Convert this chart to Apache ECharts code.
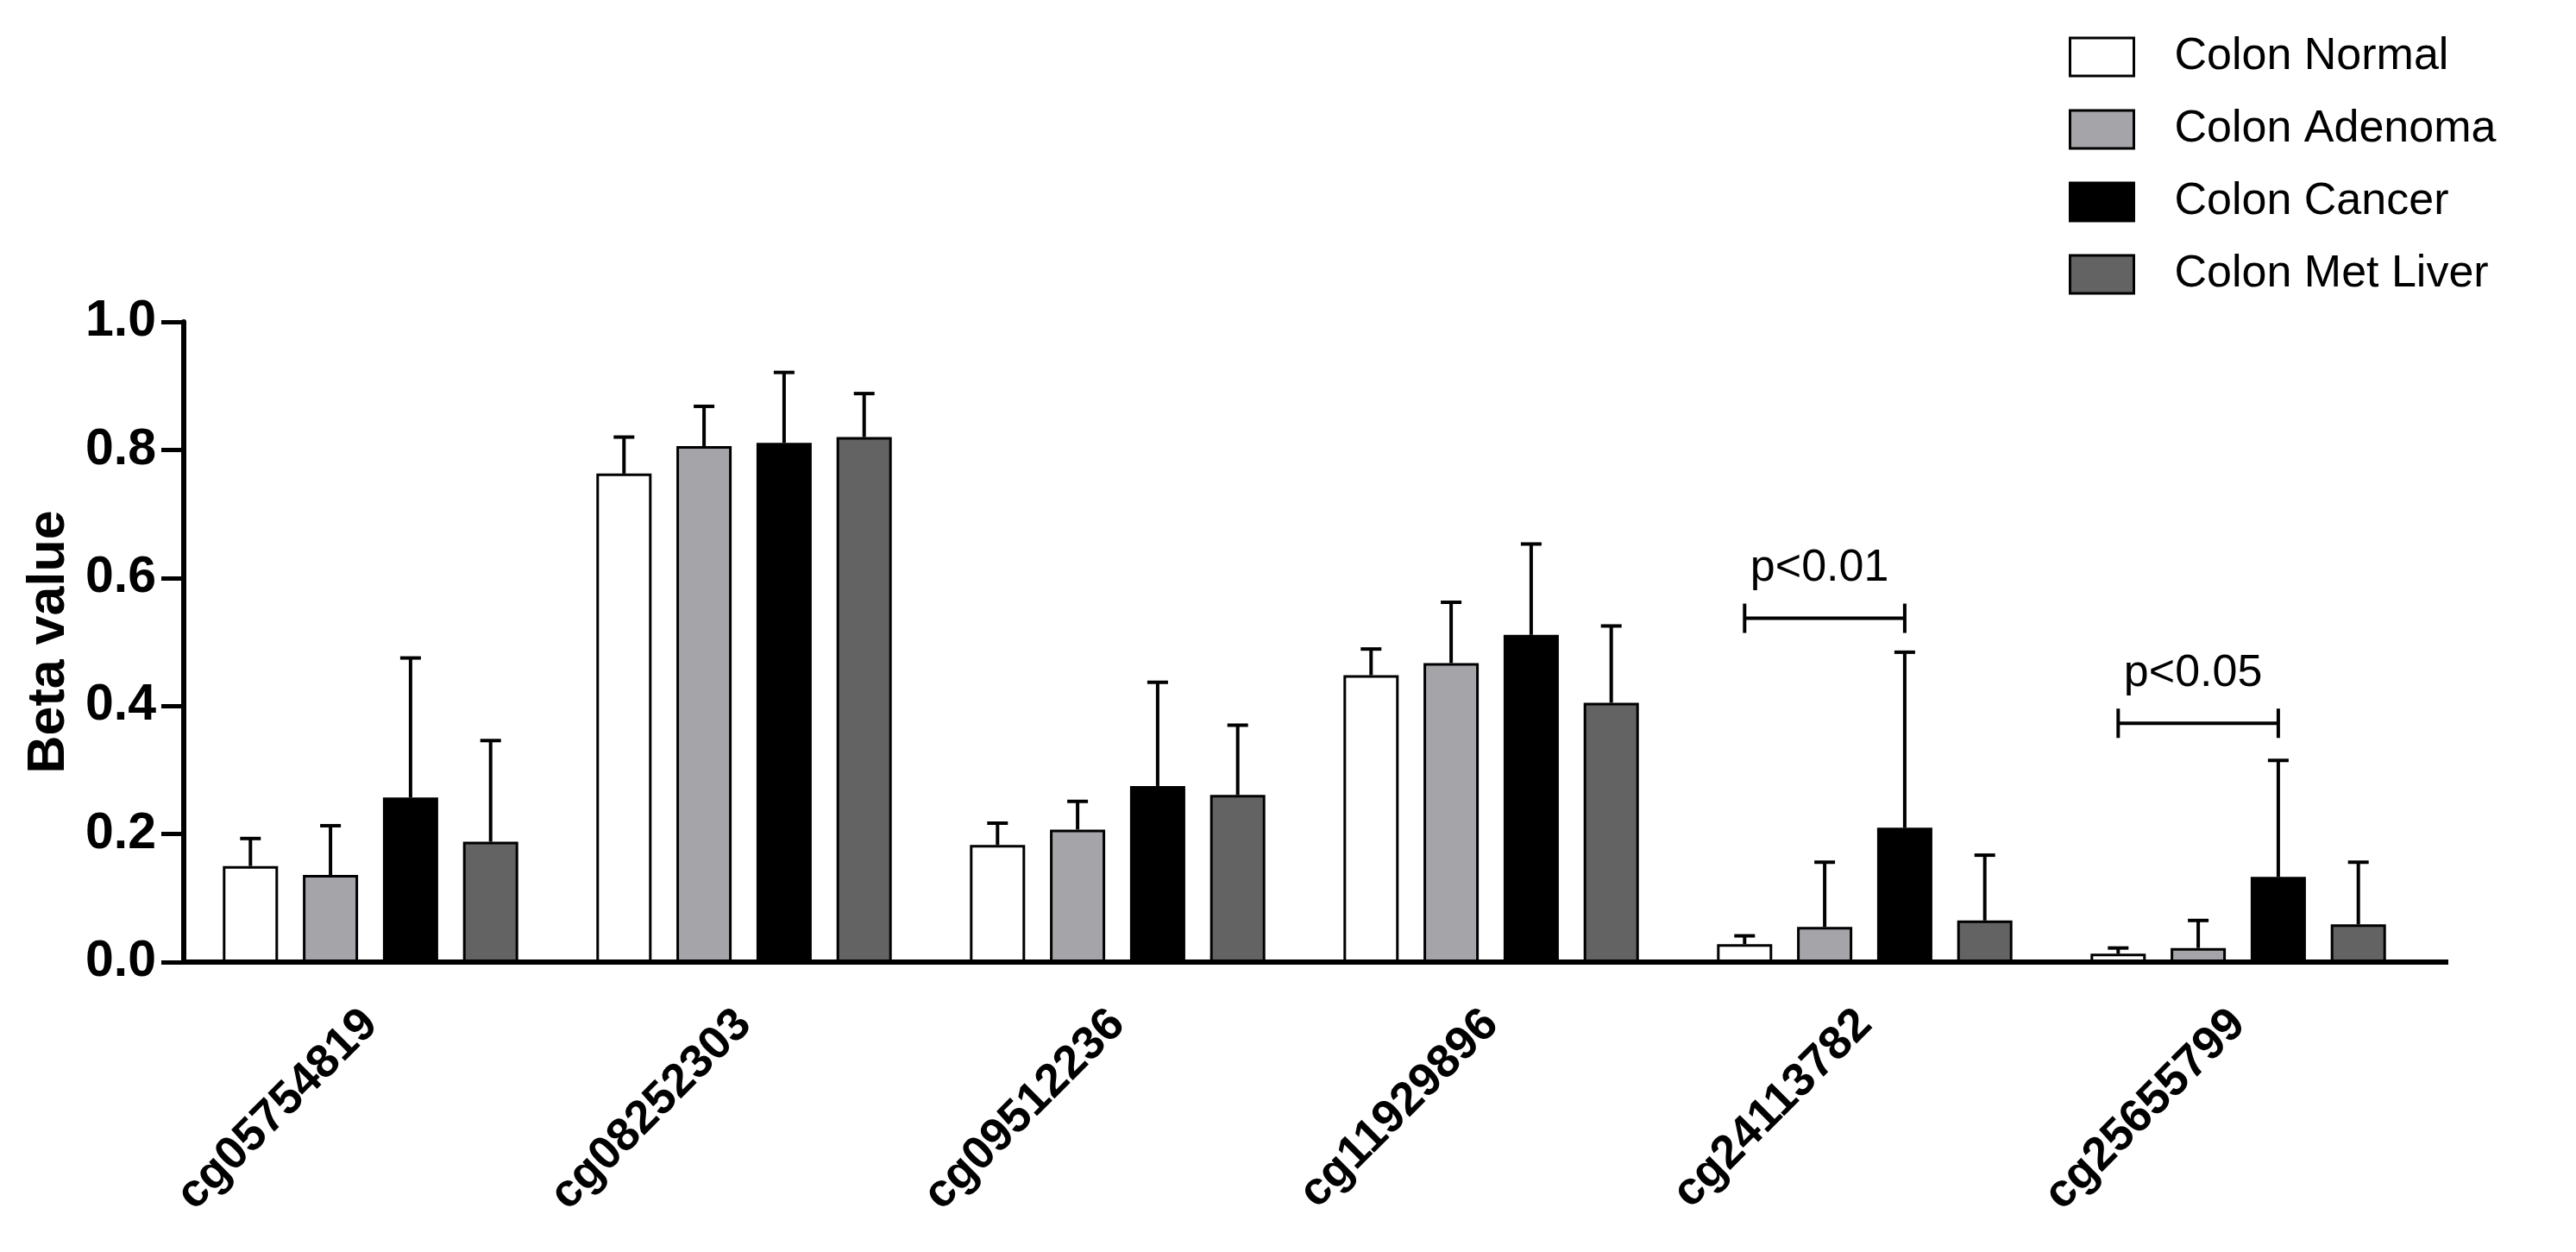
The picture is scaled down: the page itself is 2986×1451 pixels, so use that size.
<!DOCTYPE html>
<html>
<head>
<meta charset="utf-8">
<title>Beta value</title>
<script src="https://cdn.jsdelivr.net/npm/echarts@6/dist/echarts.min.js"></script>
<style>
  html, body { margin: 0; padding: 0; background: #fff; }
  #chart { width: 2986px; height: 1451px; }
</style>
</head>
<body>
<div id="chart"></div>
<script>
var categories = ['cg05754819', 'cg08252303', 'cg09512236', 'cg11929896', 'cg24113782', 'cg25655799'];
var groups = ['Colon Normal', 'Colon Adenoma', 'Colon Cancer', 'Colon Met Liver'];
var colors = ['#ffffff', '#a5a4a9', '#000000', '#636363'];

var normalMean  = [0.150, 0.763, 0.183, 0.448, 0.028, 0.013];
var adenomaMean = [0.136, 0.806, 0.207, 0.467, 0.055, 0.022];
var cancerMean  = [0.257, 0.811, 0.275, 0.511, 0.210, 0.133];
var metMean     = [0.188, 0.820, 0.261, 0.405, 0.065, 0.059];

var normalErr  = [0.043, 0.057, 0.034, 0.041, 0.013, 0.009];
var adenomaErr = [0.077, 0.062, 0.044, 0.095, 0.101, 0.043];
var cancerErr  = [0.218, 0.110, 0.162, 0.142, 0.274, 0.182];
var metErr     = [0.158, 0.068, 0.109, 0.120, 0.102, 0.097];

var yTicks = [0, 0.2, 0.4, 0.6, 0.8, 1.0];

// significance brackets: category, height, label (Normal vs Cancer)
var sigCategory = [4, 5];
var sigHeight = [0.537, 0.373];
var sigLabel = ['p<0.01', 'p<0.05'];

var means = [normalMean, adenomaMean, cancerMean, metMean];
var errs = [normalErr, adenomaErr, cancerErr, metErr];

var FONT = 'Arial, "Liberation Sans", sans-serif';
var BAR_W = 64;
var GAP = 0.45;
var STEP = BAR_W * (1 + GAP);

function offsetOf(i) {
    return (i - 1.5) * STEP;
}

var series = [];
for (var i = 0; i < groups.length; i++) {
    series.push({
        name: groups[i],
        type: 'bar',
        barWidth: BAR_W,
        barGap: (GAP * 100) + '%',
        data: means[i],
        itemStyle: {
            color: colors[i],
            borderColor: '#000',
            borderWidth: 3
        },
        z: 2
    });
}

// error bars (upper only)
var errData = [];
for (var i = 0; i < groups.length; i++) {
    for (var c = 0; c < categories.length; c++) {
        errData.push([c, means[i][c], means[i][c] + errs[i][c], i]);
    }
}
series.push({
    type: 'custom',
    name: 'err',
    data: errData,
    z: 3,
    silent: true,
    renderItem: function (params, api) {
        var c = api.value(0);
        var lo = api.coord([c, api.value(1)]);
        var hi = api.coord([c, api.value(2)]);
        var x = lo[0] + offsetOf(api.value(3));
        var capHalf = 12;
        return {
            type: 'group',
            children: [
                { type: 'line', shape: { x1: x, y1: lo[1], x2: x, y2: hi[1] }, style: { stroke: '#000', lineWidth: 4 } },
                { type: 'line', shape: { x1: x - capHalf, y1: hi[1], x2: x + capHalf, y2: hi[1] }, style: { stroke: '#000', lineWidth: 4 } }
            ]
        };
    }
});

// p-value brackets
var sigData = [];
for (var k = 0; k < sigCategory.length; k++) {
    sigData.push([sigCategory[k], sigHeight[k], k]);
}
series.push({
    type: 'custom',
    name: 'sig',
    data: sigData,
    z: 3,
    silent: true,
    renderItem: function (params, api) {
        var p = api.coord([api.value(0), api.value(1)]);
        var x1 = p[0] + offsetOf(0);
        var x2 = p[0] + offsetOf(2);
        var y = p[1];
        var h = 17;
        return {
            type: 'group',
            children: [
                { type: 'line', shape: { x1: x1, y1: y, x2: x2, y2: y }, style: { stroke: '#000', lineWidth: 4 } },
                { type: 'line', shape: { x1: x1, y1: y - h, x2: x1, y2: y + h }, style: { stroke: '#000', lineWidth: 4 } },
                { type: 'line', shape: { x1: x2, y1: y - h, x2: x2, y2: y + h }, style: { stroke: '#000', lineWidth: 4 } },
                { type: 'text', x: (x1 + x2) / 2 - 6, y: y - 32, style: {
                    text: sigLabel[api.value(2)], fill: '#000', font: '52px ' + FONT,
                    align: 'center', verticalAlign: 'bottom' } }
            ]
        };
    }
});

var chart = echarts.init(document.getElementById('chart'));
chart.setOption({
    animation: false,
    backgroundColor: '#fff',
    textStyle: { fontFamily: FONT },
    legend: {
        data: groups,
        orient: 'vertical',
        left: 2393,
        top: 35,
        icon: 'rect',
        itemWidth: 74,
        itemHeight: 44,
        itemGap: 32,
        textStyle: { fontSize: 52, lineHeight: 52, color: '#000', fontFamily: FONT, padding: [0, 0, 0, 42] },
        itemStyle: { borderColor: '#000', borderWidth: 3 }
    },
    grid: { left: 213, right: 175, top: 373, bottom: 336, containLabel: false },
    xAxis: {
        type: 'category',
        data: categories,
        axisLine: { lineStyle: { color: '#000', width: 6 } },
        axisTick: { alignWithLabel: true, length: 24, lineStyle: { color: '#000', width: 5 } },
        axisLabel: { rotate: 45, margin: 64, fontSize: 54, fontWeight: 'bold', color: '#000', fontFamily: FONT, interval: 0 }
    },
    yAxis: {
        type: 'value',
        min: yTicks[0],
        max: yTicks[yTicks.length - 1],
        interval: 0.2,
        name: 'Beta value',
        nameLocation: 'middle',
        nameGap: 124,
        nameTextStyle: { fontSize: 61, fontWeight: 'bold', color: '#000', fontFamily: FONT },
        splitLine: { show: false },
        axisLine: { show: true, lineStyle: { color: '#000', width: 6 } },
        axisTick: { show: true, length: 26, lineStyle: { color: '#000', width: 5 } },
        axisLabel: {
            margin: 32, fontSize: 59, fontWeight: 'bold', color: '#000', fontFamily: FONT,
            formatter: function (v) { return v.toFixed(1); }
        }
    },
    series: series
});

// the x axis line runs a little past the last category band
var lastX = chart.convertToPixel({ xAxisIndex: 0 }, categories.length - 1);
var prevX = chart.convertToPixel({ xAxisIndex: 0 }, categories.length - 2);
var axisY = chart.convertToPixel({ yAxisIndex: 0 }, 0);
var bandEnd = lastX + (lastX - prevX) / 2;
chart.setOption({
    graphic: [{
        type: 'line',
        shape: { x1: bandEnd - 2, y1: axisY, x2: bandEnd + 27, y2: axisY },
        style: { stroke: '#000', lineWidth: 6 },
        silent: true
    }]
});
</script>
</body>
</html>
